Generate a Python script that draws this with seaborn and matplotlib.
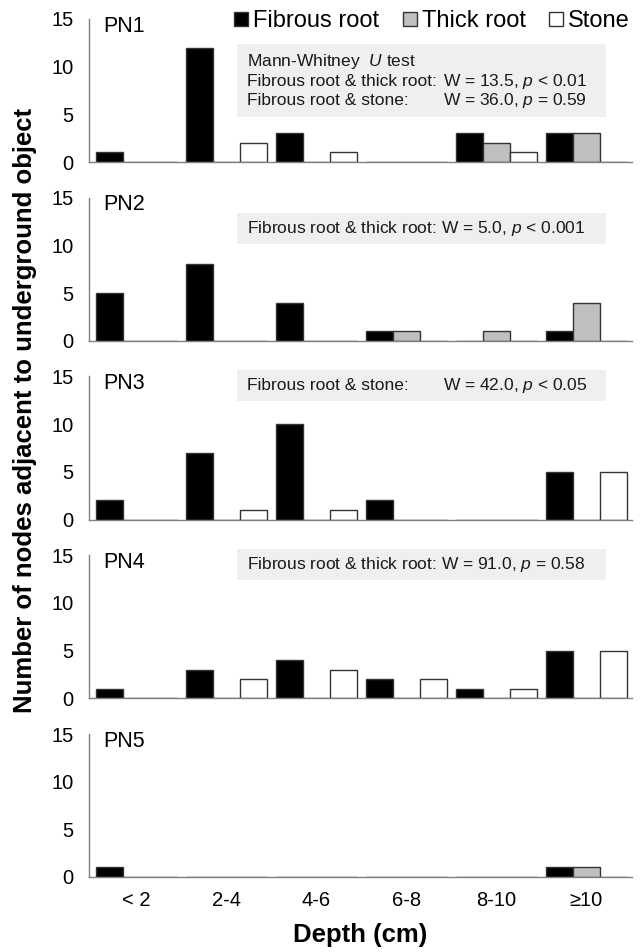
import pandas as pd
import matplotlib
matplotlib.use("Agg")
import matplotlib.pyplot as plt
from matplotlib.lines import Line2D
from matplotlib.patches import Rectangle
import seaborn as sns

# depth classes and object types
depth = ["< 2", "2-4", "4-6", "6-8", "8-10", "≥10"]
objects = ["Fibrous root", "Thick root", "Stone"]
panels = ["PN1", "PN2", "PN3", "PN4", "PN5"]

# counts of nodes per depth class
pn1_fibrous = [1, 12, 3, 0, 3, 3]
pn1_thick = [0, 0, 0, 0, 2, 3]
pn1_stone = [0, 2, 1, 0, 1, 0]

pn2_fibrous = [5, 8, 4, 1, 0, 1]
pn2_thick = [0, 0, 0, 1, 1, 4]
pn2_stone = [0, 0, 0, 0, 0, 0]

pn3_fibrous = [2, 7, 10, 2, 0, 5]
pn3_thick = [0, 0, 0, 0, 0, 0]
pn3_stone = [0, 1, 1, 0, 0, 5]

pn4_fibrous = [1, 3, 4, 2, 1, 5]
pn4_thick = [0, 0, 0, 0, 0, 0]
pn4_stone = [0, 2, 3, 2, 1, 5]

pn5_fibrous = [1, 0, 0, 0, 0, 1]
pn5_thick = [0, 0, 0, 0, 0, 1]
pn5_stone = [0, 0, 0, 0, 0, 0]

counts = [
    (pn1_fibrous, pn1_thick, pn1_stone),
    (pn2_fibrous, pn2_thick, pn2_stone),
    (pn3_fibrous, pn3_thick, pn3_stone),
    (pn4_fibrous, pn4_thick, pn4_stone),
    (pn5_fibrous, pn5_thick, pn5_stone),
]

# Mann-Whitney results: (label, stat) lines per panel
stats = [
    [("Mann-Whitney  $U$ test", ""),
     ("Fibrous root & thick root:", "W = 13.5, $p$ < 0.01"),
     ("Fibrous root & stone:", "W = 36.0, $p$ = 0.59")],
    [("Fibrous root & thick root: W = 5.0, $p$ < 0.001", "")],
    [("Fibrous root & stone:", "W = 42.0, $p$ < 0.05")],
    [("Fibrous root & thick root: W = 91.0, $p$ = 0.58", "")],
    [],
]
# box extents in axes fraction (bottom, top) and text rows
boxes = [(0.315, 0.825), (0.676, 0.893), (0.829, 1.047), (0.826, 1.047), None]
rows = [[0.706, 0.566, 0.427], [0.783], [0.936], [0.934], []]

colors = {"Fibrous root": "#000000", "Thick root": "#bfbfbf", "Stone": "#ffffff"}

sns.set_style("white")
plt.rcParams["font.family"] = ["Liberation Sans", "DejaVu Sans"]
plt.rcParams["mathtext.fontset"] = "custom"
plt.rcParams["mathtext.rm"] = "Liberation Sans"
plt.rcParams["mathtext.it"] = "Liberation Sans:italic"
plt.rcParams["text.color"] = "black"
plt.rcParams["xtick.color"] = "black"
plt.rcParams["ytick.color"] = "black"

fig = plt.figure(figsize=(6.4, 9.52), dpi=100)
W, H = 640, 952
left_px, right_px = 89, 632
zeros_px = [162, 340.75, 519.5, 698.25, 877]
h_px = 143

spine_col = "#808080"

for i, name in enumerate(panels):
    ax = fig.add_axes([left_px / W, 1 - zeros_px[i] / H,
                       (right_px - left_px) / W, h_px / H])
    fib, thk, stn = counts[i]
    df = pd.DataFrame({
        "depth": depth * 3,
        "object": [o for o in objects for _ in depth],
        "count": list(fib) + list(thk) + list(stn),
    })
    sns.barplot(data=df, x="depth", y="count", hue="object",
                order=depth, hue_order=objects, palette=colors,
                width=0.9, gap=0, edgecolor="#333333", linewidth=1.0,
                errorbar=None, legend=False, ax=ax)
    ax.set_xlim(-0.53, 5.51)
    ax.set_ylim(0, 15)
    ax.set_yticks([0, 5, 10, 15])
    ax.set_xlabel("")
    ax.set_ylabel("")
    for s in ["top", "right"]:
        ax.spines[s].set_visible(False)
    for s in ["left", "bottom"]:
        ax.spines[s].set_color(spine_col)
        ax.spines[s].set_linewidth(1.0)
        ax.spines[s].set_zorder(3)
    ax.tick_params(axis="y", length=0, pad=11, labelsize=14.5,
                   labelcolor="black")
    ax.tick_params(axis="x", length=0, pad=10, labelsize=14.5,
                   labelcolor="black")
    if i < len(panels) - 1:
        ax.set_xticklabels([])
    ax.patch.set_alpha(0)

    ax.text(0.026, 0.95, name, transform=ax.transAxes, va="center",
            ha="left", fontsize=15.5)

    if boxes[i] is not None:
        b0, b1 = boxes[i]
        ax.add_patch(Rectangle((0.2726, b0), 0.952 - 0.2726, b1 - b0,
                               transform=ax.transAxes, facecolor="#efefef",
                               edgecolor="none", clip_on=False, zorder=0.5))
        for (lab, st), yy in zip(stats[i], rows[i]):
            ax.text(0.291, yy, lab, transform=ax.transAxes, va="center",
                    ha="left", fontsize=12.5, color="#1a1a1a")
            if st:
                ax.text(0.652, yy, st, transform=ax.transAxes, va="center",
                        ha="left", fontsize=12.5, color="#1a1a1a")

handles = [Line2D([], [], marker="s", ls="", markersize=9.5,
                  markerfacecolor=colors[o], markeredgecolor="#333333",
                  markeredgewidth=1.0) for o in objects]
fig.legend(handles, objects, loc="center right",
           bbox_to_anchor=(630 / W, 1 - 21 / H), ncol=3, frameon=False,
           fontsize=17, handlelength=0.6, handletextpad=0.2,
           columnspacing=1.0, borderpad=0, borderaxespad=0)

fig.text(25 / W, 1 - 410 / H, "Number of nodes adjacent to underground object",
         rotation=90, ha="center", va="center", fontsize=18.5,
         fontweight="bold")
fig.text(360.5 / W, 1 - 935 / H, "Depth (cm)", ha="center", va="center",
         fontsize=18.5, fontweight="bold")

fig.savefig("out.png", dpi=100)
